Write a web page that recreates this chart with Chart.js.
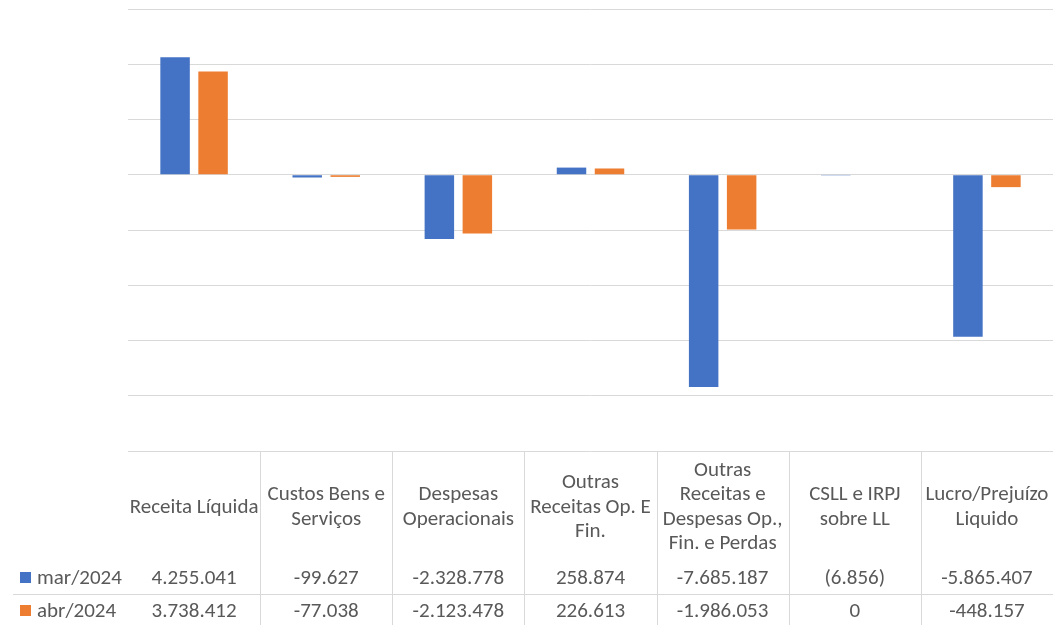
<!DOCTYPE html>
<html lang="pt-BR">

<head>
    <meta charset="UTF-8">
    <title>DRE mar/abr 2024</title>
    <style>
        html, body { margin: 0; padding: 0; background: #ffffff; }
        canvas { display: block; }
    </style>
</head>

<body>
    <canvas id="dreChart" width="1064" height="625"></canvas>

    <script src="https://cdn.jsdelivr.net/npm/chart.js"></script>

    <script>
        // data
        const categories = [
            ['Receita Líquida'],
            ['Custos Bens e', 'Serviços'],
            ['Despesas', 'Operacionais'],
            ['Outras', 'Receitas Op. E', 'Fin.'],
            ['Outras', 'Receitas e', 'Despesas Op.,', 'Fin. e Perdas'],
            ['CSLL e IRPJ', 'sobre LL'],
            ['Lucro/Prejuízo', 'Liquido']
        ];
        const seriesNames = ['mar/2024', 'abr/2024'];
        const mar2024 = [4255041, -99627, -2328778, 258874, -7685187, -6856, -5865407];
        const abr2024 = [3738412, -77038, -2123478, 226613, -1986053, 0, -448157];
        const yTicks = [-10000000, -8000000, -6000000, -4000000, -2000000, 0, 2000000, 4000000, 6000000];
        // columns shown in accounting style, negatives in brackets
        const bracketCols = [5];

        const colors = ['#4472C4', '#ED7D31'];
        const textColor = '#595959';
        const gridColor = '#d9d9d9';
        const font = '21px Carlito, Lato, sans-serif';

        function fmt(v, col) {
            const s = Math.abs(v).toString().replace(/\B(?=(\d{3})+(?!\d))/g, '.');
            if (v < 0) return bracketCols.includes(col) ? '(' + s + ')' : '-' + s;
            return s;
        }

        // draws the data table under the plot
        const dataTable = {
            id: 'dataTable',
            afterDraw(chart) {
                const ctx = chart.ctx;
                const xs = chart.scales.x;
                const area = chart.chartArea;
                const top = area.bottom;
                const colW = xs.getPixelForValue(1) - xs.getPixelForValue(0);
                const rowSep = top + 143.5;
                const rowBase = [top + 133, top + 166];
                const lineH = 24.5;

                ctx.save();
                ctx.strokeStyle = gridColor;
                ctx.lineWidth = 1;
                ctx.beginPath();
                for (let i = 1; i < categories.length; i++) {
                    const x = Math.round(xs.getPixelForValue(i) - colW / 2) + 0.5;
                    ctx.moveTo(x, top);
                    ctx.lineTo(x, chart.height);
                }
                ctx.moveTo(13, rowSep);
                ctx.lineTo(area.right, rowSep);
                ctx.stroke();

                ctx.font = font;
                ctx.fillStyle = textColor;
                ctx.textAlign = 'center';
                ctx.textBaseline = 'alphabetic';

                categories.forEach((lines, i) => {
                    const cx = xs.getPixelForValue(i);
                    lines.forEach((ln, k) => {
                        const y = top + 61.7 + (k - (lines.length - 1) / 2) * lineH;
                        ctx.fillText(ln, cx, y);
                    });
                    ctx.fillText(fmt(mar2024[i], i), cx, rowBase[0]);
                    ctx.fillText(fmt(abr2024[i], i), cx, rowBase[1]);
                });

                // legend keys
                ctx.textAlign = 'left';
                seriesNames.forEach((name, r) => {
                    ctx.fillStyle = colors[r];
                    ctx.fillRect(20, rowBase[r] - 12, 11, 11);
                    ctx.fillStyle = textColor;
                    ctx.fillText(name, 37, rowBase[r]);
                });
                ctx.restore();
            }
        };

        const config = {
            type: 'bar',
            data: {
                labels: categories,
                datasets: [{
                    label: seriesNames[0],
                    data: mar2024,
                    backgroundColor: colors[0]
                }, {
                    label: seriesNames[1],
                    data: abr2024,
                    backgroundColor: colors[1]
                }]
            },
            options: {
                responsive: false,
                animation: false,
                devicePixelRatio: 1,
                categoryPercentage: 0.575,
                barPercentage: 0.776,
                layout: {
                    padding: { left: 128, right: 11, top: 9, bottom: 174 }
                },
                scales: {
                    x: {
                        display: false
                    },
                    y: {
                        min: yTicks[0],
                        max: yTicks[yTicks.length - 1],
                        afterBuildTicks: (s) => { s.ticks = yTicks.map(v => ({ value: v })); },
                        afterFit: (s) => { s.width = 0; },
                        ticks: { display: false },
                        border: { display: false },
                        grid: { color: gridColor, lineWidth: 1, drawTicks: false }
                    }
                },
                plugins: {
                    legend: { display: false },
                    tooltip: { enabled: false }
                }
            },
            plugins: [dataTable]
        };

        const dreChart = new Chart(document.getElementById('dreChart'), config);
    </script>
</body>

</html>
